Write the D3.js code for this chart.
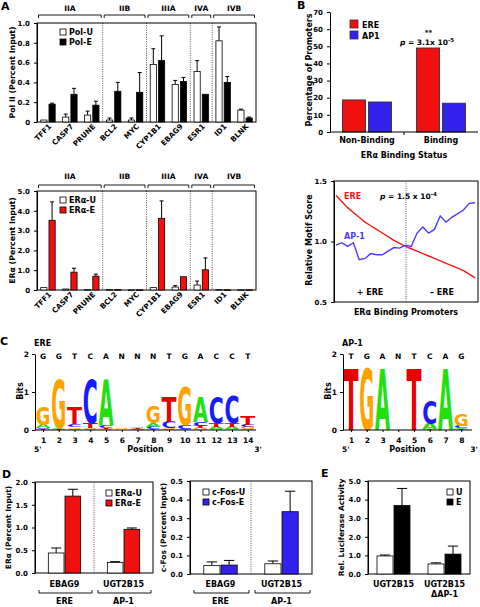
<!DOCTYPE html>
<html><head><meta charset="utf-8">
<script src="https://cdn.jsdelivr.net/npm/d3@7"></script>
<style>
body{margin:0;background:#fff}
svg{display:block;font-family:"DejaVu Sans",Arial,sans-serif;font-weight:bold}
</style></head><body>
<svg id="fig" width="480" height="607"></svg>
<script>
// ---------------- DATA ----------------
// Panel A
const promoters = ["TFF1","CASP7","PRUNE","BCL2","MYC","CYP1B1","EBAG9","ESR1","ID1","BLNK"];
const promoterClasses = ["IIA","IIB","IIIA","IVA","IVB"];
const classSizes = [3,2,2,1,2];
const polU    = [0.02,0.05,0.07,0.02,0.02,0.58,0.38,0.51,0.82,0.12];
const polUErr = [0,0.03,0.04,0.02,0.02,0.16,0.04,0.11,0.14,0.01];
const polE    = [0.18,0.28,0.17,0.31,0.30,0.62,0.41,0.28,0.40,0.04];
const polEErr = [0.01,0.06,0.04,0.09,0.20,0.25,0.04,0,0.06,0.01];
const erU     = [0.12,0.05,0.02,0.02,0.01,0.12,0.15,0.25,0.02,0.01];
const erUErr  = [0,0,0,0,0,0,0.07,0.20,0,0];
const erE     = [3.52,0.90,0.70,0.02,0.01,3.62,0.67,1.02,0.01,0.01];
const erEErr  = [0.93,0.20,0.10,0,0,0.88,0,0.60,0,0];
const polTicks = [0,0.2,0.4,0.6,0.8,1.0];
const erTicks = [0,1,2,3,4,5];
// Panel B (top)
const bindingStatus = ["Non-Binding","Binding"];
const motifs = ["ERE","AP1"];
const erePct = [18.7,49.0];
const ap1Pct = [17.5,16.8];
const pctTicks = [0,10,20,30,40,50,60,70];
// Panel B (bottom)
const ereScore = [1.38,1.33,1.28,1.24,1.20,1.16,1.13,1.10,1.07,1.04,1.01,0.985,0.96,0.94,0.92,0.90,0.88,0.86,0.84,0.82,0.80,0.78,0.76,0.73,0.70];
const ap1Score = [0.97,0.99,0.96,0.99,0.85,0.86,0.90,0.89,0.89,0.92,0.95,0.945,0.97,0.96,1.07,1.12,1.07,1.10,1.21,1.16,1.20,1.23,1.26,1.315,1.32];
const scoreTicks = [0.5,1.0,1.5];
// Panel C (logos, bits per base)
const ereConsensus = ["G","G","T","C","A","N","N","N","T","G","A","C","C","T"];
const ereA = [0.09,0.03,0.03,0.03,1.20,0.01,0.01,0.10,0.02,0.02,0.65,0.05,0.05,0.02];
const ereC = [0.03,0.01,0.08,1.12,0.06,0.01,0.02,0.06,0.17,0.09,0.10,0.68,0.70,0.06];
const ereG = [0.48,1.28,0.04,0.03,0.03,0.03,0.04,0.45,0.03,1.00,0.05,0.02,0.03,0.05];
const ereT = [0.02,0.02,0.45,0.12,0.03,0.01,0.02,0.02,0.63,0.01,0.05,0.11,0.10,0.25];
const ap1Consensus = ["T","G","A","N","T","C","A","G"];
const ap1A = [0,0,1.60,0,0,0.15,1.60,0.03];
const ap1C = [0,0,0,0,0,0.60,0,0.05];
const ap1G = [0,1.60,0,0,0,0,0,0.30];
const ap1T = [1.60,0,0,0,1.60,0.02,0,0.02];
const bitTicks = [0,1,2];
// Panel D
const dGenes = ["EBAG9","UGT2B15"];
const dSites = ["ERE","AP-1"];
const dErU = [0.44,0.23], dErUErr = [0.11,0.02];
const dErE = [1.69,0.96], dErEErr = [0.15,0.03];
const dFosU = [0.045,0.055], dFosUErr = [0.02,0.015];
const dFosE = [0.048,0.335], dFosEErr = [0.025,0.11];
const dErTicks = [0,0.5,1.0,1.5,2.0];
const dFosTicks = [0,0.1,0.2,0.3,0.4,0.5];
// Panel E
const eConstructs = ["UGT2B15","UGT2B15 ΔAP-1"];
const eU = [0.97,0.54], eUErr = [0.05,0.06];
const eE = [3.68,1.07], eEErr = [0.92,0.43];
const eTicks = [0,1,2,3,4,5];

// ---------------- HELPERS ----------------
const RED = "#f01010", BLUE = "#3322ee", LBLUE = "#4a3cff";
const LOGO_COL = {A:"#22e010", C:"#1a1aff", G:"#ffa200", T:"#e80000"};
const svg = d3.select("#fig");

function txt(g,x,y,s,size,anchor="start",fill="#000"){
  return g.append("text").attr("x",x).attr("y",y).attr("font-size",size)
    .attr("text-anchor",anchor).attr("fill",fill).text(s);
}
function vtxt(g,x,y,s,size){
  return g.append("text").attr("transform",`translate(${x},${y}) rotate(-90)`)
    .attr("text-anchor","middle").attr("font-size",size).text(s);
}
function leftAxis(g,y,x,ticks,fmt,size=7){
  const ax = g.append("g").attr("transform",`translate(${x},0)`)
    .call(d3.axisLeft(y).tickValues(ticks).tickFormat(fmt).tickSize(3).tickSizeOuter(0));
  ax.attr("font-family",null).attr("font-size",size);
  ax.selectAll("text").attr("fill","#000").attr("dx","-1");
  ax.selectAll("line,path").attr("stroke","#000").attr("stroke-width",1);
  return ax;
}
function frame(g,x0,x1,y0,y1){
  g.append("rect").attr("x",x0).attr("y",y0).attr("width",x1-x0).attr("height",y1-y0)
    .attr("fill","none").attr("stroke","#000").attr("stroke-width",1);
}
function vdots(g,x,y0,y1){
  g.append("line").attr("x1",x).attr("x2",x).attr("y1",y0).attr("y2",y1)
    .attr("stroke","#444").attr("stroke-width",0.9).attr("stroke-dasharray","1,1.3");
}
function groupedBars(g,cats,x,sub,keys,vals,errs,fills,y){
  keys.forEach((k,i)=>{
    const data = cats.map((c,j)=>({c,v:vals[i][j],e:errs[i][j]}));
    g.selectAll(null).data(data.filter(d=>d.e>0)).enter().append("path")
      .attr("d",d=>{
        const cx = x(d.c)+sub(k)+sub.bandwidth()/2, y1=y(d.v), y2=y(d.v+d.e), hw=sub.bandwidth()*0.32;
        return `M${cx},${y1}V${y2}M${cx-hw},${y2}H${cx+hw}`;})
      .attr("stroke","#000").attr("stroke-width",1).attr("fill","none");
    g.selectAll(null).data(data).enter().append("rect")
      .attr("x",d=>x(d.c)+sub(k)).attr("y",d=>y(d.v))
      .attr("width",sub.bandwidth()).attr("height",d=>Math.max(0.6,y(0)-y(d.v)))
      .attr("fill",fills[i]).attr("stroke","#000").attr("stroke-width",0.8);
  });
}
function legendSq(g,x,y,fill,label,size=8,sq=6){
  g.append("rect").attr("x",x).attr("y",y-sq).attr("width",sq).attr("height",sq)
    .attr("fill",fill).attr("stroke","#000").attr("stroke-width",0.8);
  txt(g,x+sq+3,y,label,size);
}

// ---------------- PANEL A ----------------
function panelA(top,bottom,bracketY,labelY,yDomain,ticks,fmt,uVals,uErr,eVals,eErr,eFill,title,leg){
  const g = svg.append("g");
  const x = d3.scaleBand().domain(promoters).range([37,256]);
  const sub = d3.scaleBand().domain(["U","E"]).range([0,x.bandwidth()]).paddingInner(0.25).paddingOuter(0.45);
  const y = d3.scaleLinear().domain(yDomain).range([bottom,top]);
  let idx = 0;
  promoterClasses.forEach((cls,gi)=>{
    const first = promoters[idx], last = promoters[idx+classSizes[gi]-1];
    const gx0 = x(first), gx1 = x(last)+x.bandwidth();
    g.append("path").attr("d",`M${gx0+1.5},${bracketY+3}V${bracketY}H${gx1-1.5}V${bracketY+3}`)
      .attr("fill","none").attr("stroke","#000").attr("stroke-width",0.9);
    txt(g,(gx0+gx1)/2,labelY,cls,7.5,"middle");
    if(gi>0) vdots(g,gx0,top,bottom);
    idx += classSizes[gi];
  });
  frame(g,37,256,top,bottom);
  groupedBars(g,promoters,x,sub,["U","E"],[uVals,eVals],[uErr,eErr],["#fff",eFill],y);
  leftAxis(g,y,37,ticks,fmt,7);
  promoters.forEach(c=>{
    g.append("text").attr("transform",`translate(${x(c)+x.bandwidth()/2+4},${bottom+5}) rotate(-45)`)
      .attr("text-anchor","end").attr("font-size",7.3).text(c);
  });
  vtxt(g,15,(top+bottom)/2,title,7.8);
  legendSq(g,60,top+12,"#fff",leg[0],8);
  legendSq(g,60,top+22,eFill,leg[1],8);
}
panelA(23,122,15,11,[0,1],polTicks,d=>d===0?"0":d.toFixed(1),polU,polUErr,polE,polEErr,"#000","Pol II (Percent Input)",["Pol-U","Pol-E"]);
panelA(191,290,185,179,[0,5],erTicks,d=>d===0?"0":d.toFixed(1),erU,erUErr,erE,erEErr,RED,"ERα (Percent Input)",["ERα-U","ERα-E"]);
txt(svg,1,10,"A",11);

// ---------------- PANEL B top ----------------
(function(){
  const g = svg.append("g");
  const x = d3.scaleBand().domain(bindingStatus).range([330,478]);
  const sub = d3.scaleBand().domain(motifs).range([0,x.bandwidth()]).paddingInner(0.115).paddingOuter(0.48);
  const y = d3.scaleLinear().domain([0,70]).range([132,12]);
  const vals = [erePct,ap1Pct];
  motifs.forEach((m,i)=>{
    g.selectAll(null).data(bindingStatus).enter().append("rect")
      .attr("x",c=>x(c)+sub(m)).attr("width",sub.bandwidth())
      .attr("y",(c,j)=>y(vals[i][j])).attr("height",(c,j)=>y(0)-y(vals[i][j]))
      .attr("fill",i===0?RED:BLUE).attr("stroke","#333").attr("stroke-width",0.9);
  });
  leftAxis(g,y,330,pctTicks,d3.format("d"),7);
  g.append("line").attr("x1",330).attr("x2",478).attr("y1",132).attr("y2",132).attr("stroke","#000");
  const mid = x(bindingStatus[1]);
  g.append("line").attr("x1",mid).attr("x2",mid).attr("y1",132).attr("y2",135).attr("stroke","#000");
  bindingStatus.forEach(c=>txt(g,x(c)+x.bandwidth()/2,143,c,8,"middle"));
  txt(g,404,158,"ERα Binding Status",8,"middle");
  vtxt(g,312,70,"Percentage of Promoters",8);
  g.append("rect").attr("x",350).attr("y",20).attr("width",8).attr("height",8).attr("fill",RED).attr("stroke","#333").attr("stroke-width",0.8);
  txt(g,362,28,"ERE",8);
  g.append("rect").attr("x",350).attr("y",31).attr("width",8).attr("height",8).attr("fill",BLUE).attr("stroke","#333").attr("stroke-width",0.8);
  txt(g,362,39,"AP1",8);
  const bx = x(bindingStatus[1])+sub("ERE")+sub.bandwidth()/2;
  txt(g,bx+0.5,35,"**",7,"middle");
  const p = g.append("text").attr("x",bx-1).attr("y",45).attr("font-size",7.5).attr("text-anchor","middle");
  p.append("tspan").attr("font-style","italic").text("p");
  p.append("tspan").text(" = 3.1x 10");
  p.append("tspan").attr("dy",-3).attr("font-size",5.5).text("-5");
  txt(svg,297,9,"B",11);
})();

// ---------------- PANEL B bottom ----------------
(function(){
  const g = svg.append("g");
  const x = d3.scaleLinear().domain([0,ereScore.length-1]).range([336,475]);
  const y = d3.scaleLinear().domain([0.5,1.5]).range([302,181]);
  const midX = (334+478)/2;
  frame(g,334,478,181,302);
  vdots(g,midX,181,302);
  const line = d3.line().x((d,i)=>x(i)).y(d=>y(d));
  g.append("path").datum(ereScore).attr("d",line).attr("fill","none").attr("stroke","#f01818").attr("stroke-width",1.4);
  g.append("path").datum(ap1Score).attr("d",line).attr("fill","none").attr("stroke",LBLUE).attr("stroke-width",1.4);
  leftAxis(g,y,334,scoreTicks,d3.format(".1f"),7);
  txt(g,344,199,"ERE",8,"start","#f01818");
  txt(g,344,239,"AP-1",8,"start",LBLUE);
  const p = g.append("text").attr("x",380).attr("y",199).attr("font-size",7.5);
  p.append("tspan").attr("font-style","italic").text("p");
  p.append("tspan").text(" = 1.5 x 10");
  p.append("tspan").attr("dy",-3).attr("font-size",5.5).text("-4");
  txt(g,(334+midX)/2,295,"+ ERE",8,"middle");
  txt(g,(midX+478)/2,295,"– ERE",8,"middle");
  txt(g,406,315,"ERα Binding Promoters",8,"middle");
  vtxt(g,312,240,"Relative Motif Score",8);
})();

// ---------------- PANEL C ----------------
const ADV = {A:0.774,C:0.734,G:0.821,T:0.682};
function logo(x0,x1,cons,A,C,G,T,title){
  const g = svg.append("g");
  const n = cons.length;
  const pos = d3.range(1,n+1);
  const x = d3.scalePoint().domain(pos).range([x0+8,x0+8+(n-1)*15.75]);
  const y = d3.scaleLinear().domain([0,2]).range([430,354]);
  pos.forEach((p,i)=>{
    const stack = [["A",A[i]],["C",C[i]],["G",G[i]],["T",T[i]]].filter(d=>d[1]>0).sort((a,b)=>a[1]-b[1]);
    let acc = 0;
    const w = 15;
    stack.forEach(([L,h])=>{
      const yb = y(acc), H = y(0)-y(h);
      const sx = w/(ADV[L]*100), sy = H/72.9;
      g.append("text").attr("transform",`translate(${x(p)-w/2},${yb}) scale(${sx},${sy})`)
        .attr("font-size",100).attr("fill",LOGO_COL[L]).text(L);
      acc += h;
    });
    txt(g,x(p),359,cons[i],7.5,"middle");
  });
  const ax = g.append("g").attr("transform",`translate(${x0},0)`)
    .call(d3.axisLeft(y).tickValues(bitTicks).tickFormat(d3.format("d")).tickSize(3).tickSizeOuter(0));
  ax.attr("font-family",null).attr("font-size",7.5);
  ax.selectAll("text").attr("fill","#000");
  ax.selectAll("line,path").attr("stroke","#000");
  const bx = g.append("g").attr("transform","translate(0,430)")
    .call(d3.axisBottom(x).tickSize(2).tickSizeOuter(0));
  bx.attr("font-family",null).attr("font-size",7.5);
  bx.select(".domain").attr("d",`M${x0},0H${x1}`).attr("stroke","#000");
  bx.selectAll("line").attr("stroke","#000");
  bx.selectAll("text").attr("fill","#000").attr("dy","1.0em");
  txt(g,x0-1,346,title,8);
  vtxt(g,x0-12,391,"Bits",8);
  txt(g,x0-1,452,"5'",7.5);
  txt(g,(x0+x1)/2,452,"Position",8,"middle");
  txt(g,x1+2,452,"3'",7.5,"middle");
}
logo(35,256,ereConsensus,ereA,ereC,ereG,ereT,"ERE");
logo(343,472,ap1Consensus,ap1A,ap1C,ap1G,ap1T,"AP-1");
txt(svg,0,345,"C",11);

// ---------------- PANEL D & E ----------------
function smallBars(x0,x1,top,bottom,cats,yMax,ticks,fmt,uV,uE,eV,eE,eFill,title,legX,leg,divider,bOuter){
  const g = svg.append("g");
  const x = d3.scaleBand().domain(cats).range([x0,x1]);
  const sub = d3.scaleBand().domain(["U","E"]).range([0,x.bandwidth()]).paddingInner(0.06).paddingOuter(bOuter);
  const y = d3.scaleLinear().domain([0,yMax]).range([bottom,top]);
  frame(g,x0,x1,top,bottom);
  if(divider) vdots(g,x(cats[1]),top,bottom);
  groupedBars(g,cats,x,sub,["U","E"],[uV,eV],[uE,eE],["#fff",eFill],y);
  leftAxis(g,y,x0,ticks,fmt,7);
  vtxt(g,x0-24,(top+bottom)/2,title,7.5);
  legendSq(g,legX,top+14,"#fff",leg[0],8);
  legendSq(g,legX,top+24,eFill,leg[1],8);
  return {g,x,y};
}
function siteLabels(g,x,cats){
  cats.forEach((c,i)=>{
    const cx = x(c)+x.bandwidth()/2;
    txt(g,cx,587,c,8,"middle");
    const a = x(c)+4, b = x(c)+x.bandwidth()-2;
    g.append("path").attr("d",`M${a},${590}V${593}H${b}V${590}`).attr("fill","none").attr("stroke","#000").attr("stroke-width",0.9);
    txt(g,cx,604,dSites[i],8,"middle");
  });
}
(function(){
  const d1 = smallBars(35,153,482,573,dGenes,2,dErTicks,d3.format(".1f"),dErU,dErUErr,dErE,dErEErr,RED,"ERα (Percent Input)",106,["ERα-U","ERα-E"],true,0.8);
  siteLabels(d1.g,d1.x,dGenes);
  const d2 = smallBars(190,312,481,574,dGenes,0.5,dFosTicks,d3.format(".1f"),dFosU,dFosUErr,dFosE,dFosEErr,BLUE,"c-Fos (Percent Input)",203,["c-Fos-U","c-Fos-E"],true,0.8);
  siteLabels(d2.g,d2.x,dGenes);
  txt(svg,2,478,"D",11);
  const e = smallBars(368,470,481,574,eConstructs,5,eTicks,d3.format(".1f"),eU,eUErr,eE,eEErr,"#000","Rel. Luciferase Activity",447,["U","E"],false,0.53);
  eConstructs.forEach(c=>{
    const cx = e.x(c)+e.x.bandwidth()/2;
    const parts = c.split(" ");
    parts.forEach((s,k)=>txt(e.g,cx,587+k*10,s,8,"middle"));
  });
  txt(svg,321,477,"E",11);
})();
</script>
</body></html>
